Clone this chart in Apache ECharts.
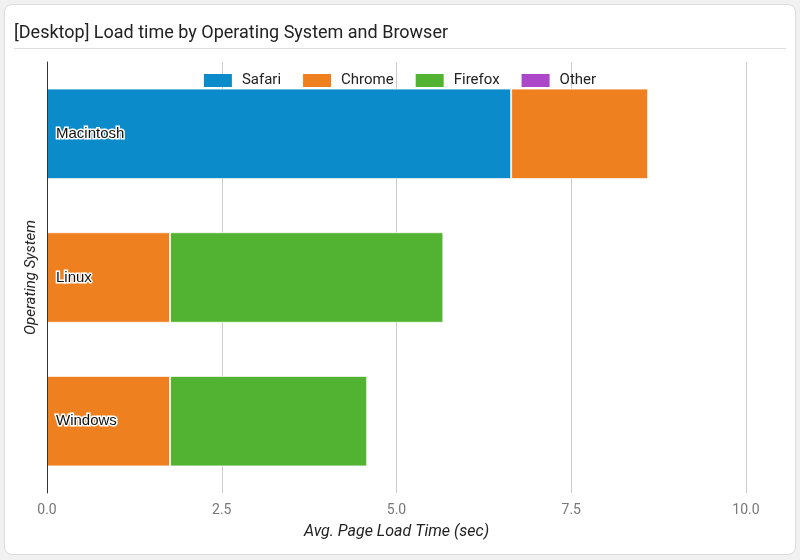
<!DOCTYPE html>
<html>
<head>
<meta charset="utf-8">
<title>Load time by OS and Browser</title>
<style>
    html, body { margin:0; padding:0; background:#f1f1f1; }
    #card {
        position:absolute; left:4px; top:4px; width:790px; height:549px;
        background:#fff; border:1px solid #dcdcdc; border-radius:8px;
    }
    #main { position:absolute; left:0; top:0; width:800px; height:560px; }
</style>
</head>
<body>
<div id="card"></div>
<div id="main"></div>
<script src="https://cdn.jsdelivr.net/npm/echarts@6/dist/echarts.min.js"></script>
<script type="text/javascript">
    // categories, top to bottom
    var systems = ['Macintosh', 'Linux', 'Windows'];
    var browsers = ['Safari', 'Chrome', 'Firefox', 'Other'];
    var colors = ['#0b8bca', '#ef8020', '#52b332', '#ab47c8'];
    // avg page load time (sec) per browser, by system
    var safari = [6.64, 0, 0];
    var chrome = [1.96, 1.76, 1.76];
    var firefox = [0, 3.91, 2.82];
    var other = [0, 0, 0];
    var xTicks = [0, 2.5, 5, 7.5, 10];

    var values = [safari, chrome, firefox, other];

    var myChart = echarts.init(document.getElementById('main'));

    var series = [];
    for (var i = 0; i < browsers.length; i++) {
        series.push({
            name: browsers[i],
            type: 'bar',
            stack: 'total',
            color: colors[i],
            barCategoryGap: '37%',
            itemStyle: { borderColor: 'rgba(255,255,255,0.7)', borderWidth: 1 },
            data: values[i].map(function (v) { return v === 0 ? null : v; })
        });
    }

    var option = {
        backgroundColor: 'transparent',
        textStyle: { fontFamily: 'Roboto' },
        title: {
            text: '[Desktop] Load time by Operating System and Browser',
            left: 9, top: 19,
            textStyle: { fontSize: 18, fontWeight: 'normal', color: '#222', fontFamily: 'Roboto' }
        },
        graphic: [{
            type: 'line',
            shape: { x1: 14, y1: 48.5, x2: 786, y2: 48.5 },
            style: { stroke: '#dedede', lineWidth: 1 }
        }],
        legend: {
            data: browsers,
            top: 68,
            left: 'center',
            itemWidth: 28,
            itemHeight: 13,
            itemGap: 22,
            icon: 'rect',
            itemStyle: { borderWidth: 0 },
            textStyle: { fontSize: 15, color: '#222', fontFamily: 'Roboto', padding: [0, 0, 0, 5] }
        },
        grid: {
            left: 47, right: 54, top: 62, bottom: 67,
            containLabel: false,
            outerBoundsMode: 'none'
        },
        xAxis: {
            type: 'value',
            min: xTicks[0], max: xTicks[xTicks.length - 1], interval: xTicks[1] - xTicks[0],
            name: 'Avg. Page Load Time (sec)',
            nameLocation: 'middle',
            nameGap: 31,
            nameTextStyle: { fontStyle: 'italic', fontSize: 16, color: '#222', fontFamily: 'Roboto' },
            axisLine: { show: false },
            axisTick: { show: false },
            splitLine: { lineStyle: { color: '#cccccc', width: 1 } },
            axisLabel: {
                margin: 10, fontSize: 14, color: '#777', fontFamily: 'Roboto',
                formatter: function (v) { return v.toFixed(1); }
            }
        },
        yAxis: {
            type: 'category',
            inverse: true,
            data: systems,
            z: 10,
            name: 'Operating System',
            nameLocation: 'middle',
            nameGap: 8,
            nameTextStyle: { fontStyle: 'italic', fontSize: 15, color: '#222', fontFamily: 'Roboto' },
            axisLine: { show: true, lineStyle: { color: '#333', width: 1 } },
            axisTick: { show: false },
            axisLabel: {
                inside: true, margin: 9, fontSize: 15, color: '#111',
                fontFamily: 'Liberation Sans',
                textBorderColor: '#fff', textBorderWidth: 3
            }
        },
        series: series
    };
    myChart.setOption(option, true);
</script>
</body>
</html>
